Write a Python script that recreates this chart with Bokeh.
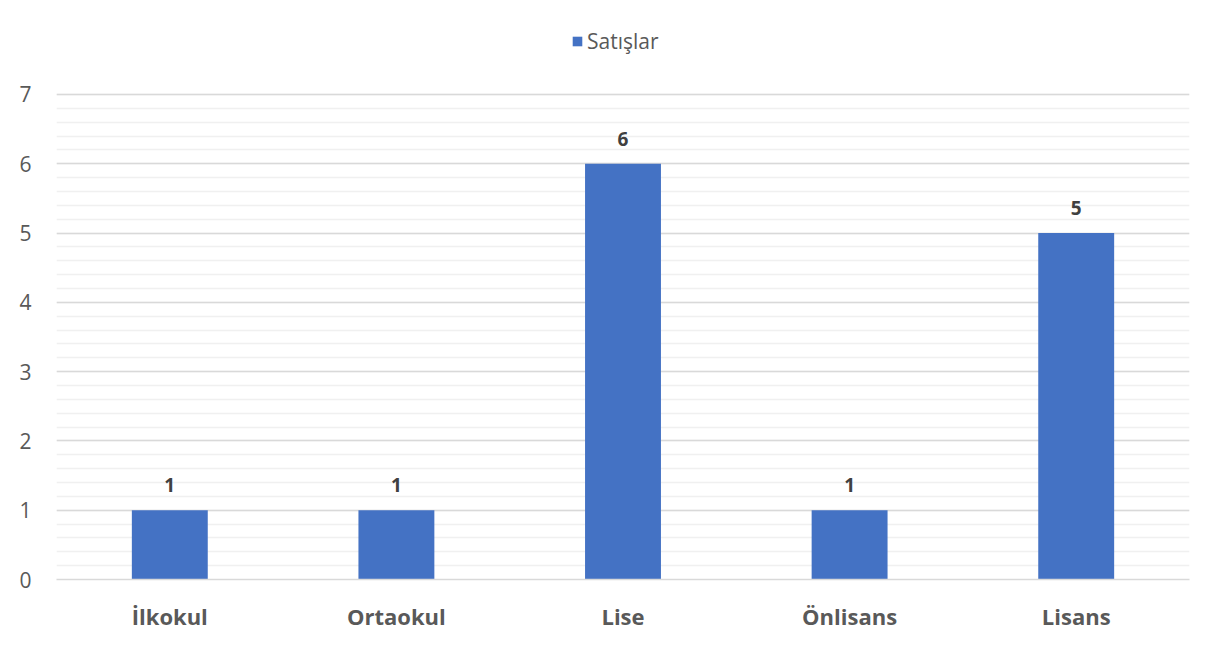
from bokeh.plotting import figure
from bokeh.models import ColumnDataSource, LabelSet, Legend, LegendItem, Range1d, FixedTicker
from bokeh.core.properties import value
from bokeh.embed import file_html
from bokeh.resources import INLINE

categories = ["İlkokul", "Ortaokul", "Lise", "Önlisans", "Lisans"]
values = [1, 1, 6, 1, 5]
series_name = "Satışlar"
y_ticks = [0, 1, 2, 3, 4, 5, 6, 7]

src = ColumnDataSource(dict(cat=categories, val=values, lbl=[str(v) for v in values]))

# frame spans to the top so the legend can sit above the 7 gridline
p = figure(x_range=categories, y_range=Range1d(0, 8.2412), width=1199, height=643,
           output_backend="svg", toolbar_location=None,
           min_border_left=56, min_border_right=10, min_border_top=8, min_border_bottom=64)
p.outline_line_color = None
p.border_fill_color = "white"
p.background_fill_color = "white"

r = p.vbar(x="cat", top="val", width=0.335, source=src, fill_color="#4472C4", line_color=None)

labels = LabelSet(x="cat", y="val", text="lbl", source=src, text_align="center",
                  text_baseline="bottom", y_offset=18, text_font_size="19px",
                  text_font_style="bold", text_color="#404040", text_font=value("Open Sans"))
p.add_layout(labels)

p.yaxis.ticker = FixedTicker(ticks=y_ticks, minor_ticks=[i * 0.2 for i in range(36)])
p.yaxis.axis_line_color = None
p.yaxis.major_tick_line_color = None
p.yaxis.minor_tick_line_color = None
p.yaxis.major_label_text_font_size = "21px"
p.yaxis.major_label_text_color = "#595959"
p.yaxis.major_label_text_font = "Open Sans"
p.yaxis.major_label_standoff = 19

p.xaxis.axis_line_color = "#d9d9d9"
p.xaxis.axis_line_width = 1.5
p.xaxis.major_tick_line_color = None
p.xaxis.minor_tick_line_color = None
p.xaxis.major_label_text_font_size = "22px"
p.xaxis.major_label_text_font_style = "bold"
p.xaxis.major_label_text_color = "#595959"
p.xaxis.major_label_text_font = "Open Sans"
p.xaxis.major_label_standoff = 15

p.xgrid.grid_line_color = None
p.ygrid.grid_line_color = "#d9d9d9"
p.ygrid.grid_line_width = 1.5
p.ygrid.minor_grid_line_color = "#f0f0f0"
p.ygrid.minor_grid_line_width = 1.5

legend = Legend(items=[LegendItem(label=series_name, renderers=[r])],
                location=(515, 524), orientation="horizontal",
                label_text_font_size="21px", label_text_color="#595959",
                label_text_font="Open Sans", glyph_width=12, glyph_height=12,
                label_standoff=4, border_line_color=None, background_fill_alpha=0,
                padding=0, margin=0, label_height=22)
p.add_layout(legend, "center")

open("out.html", "w").write(file_html(p, INLINE))
